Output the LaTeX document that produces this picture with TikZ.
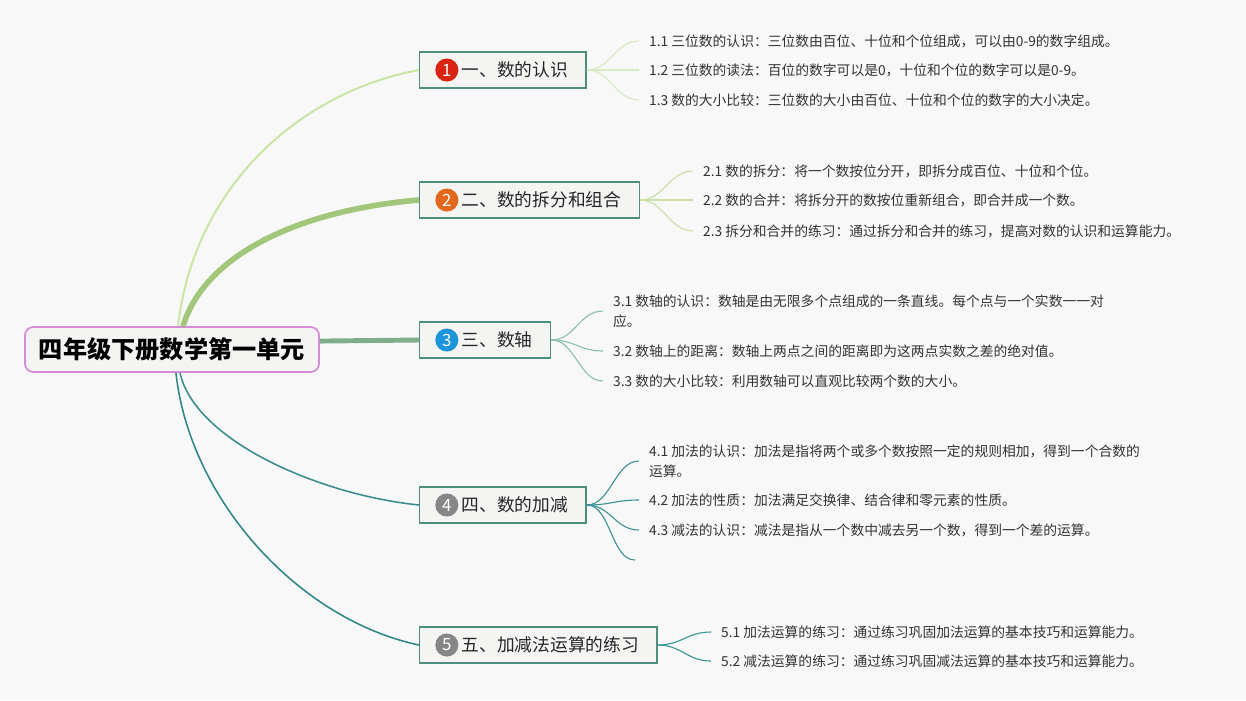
\documentclass[tikz,border=0pt]{standalone}
\usepackage{fontspec}
\setmainfont{Noto Sans CJK SC}
\usetikzlibrary{positioning}

\definecolor{bg}{HTML}{F8F8F8}
\definecolor{boxfill}{HTML}{F4F4F2}
\definecolor{rootline}{HTML}{D38BD6}
\definecolor{topicline}{HTML}{4E8E7E}
\definecolor{leaftext}{HTML}{333333}
\definecolor{c1}{HTML}{C9E5A3}
\definecolor{c2}{HTML}{A3C77A}
\definecolor{c3}{HTML}{7FAE8B}
\definecolor{c4}{HTML}{3A8B8B}
\definecolor{c5}{HTML}{2F8686}
\definecolor{k1}{HTML}{D8EAC2}
\definecolor{k2}{HTML}{CCDFA6}
\definecolor{k3}{HTML}{8DBFA9}
\definecolor{k4}{HTML}{3F9292}
\definecolor{k5}{HTML}{3B9696}
\definecolor{num1}{HTML}{D92411}
\definecolor{num2}{HTML}{E2691C}
\definecolor{num3}{HTML}{1D95DA}
\definecolor{num4}{HTML}{868686}

\begin{document}
\begin{tikzpicture}[x=0.025cm,y=-0.025cm,
  rootbox/.style={draw=rootline,fill=boxfill,line width=1.2pt,rounded corners=6pt,minimum width=7.35cm,minimum height=1.125cm,font=\fontsize{17.2}{20}\selectfont\bfseries},
  topic/.style={draw=topicline,fill=boxfill,line width=1pt,minimum height=25.6pt,inner xsep=12.8pt,anchor=west,text=black!85,font=\fontsize{12.6}{15}\selectfont},
  numdot/.style={circle,inner sep=0pt,minimum size=16.4pt,text=white,font=\fontsize{12}{13}\selectfont},
  leaf/.style={anchor=west,inner xsep=7pt,align=left,text=leaftext,font=\fontsize{9.8}{14.2}\selectfont},
  fan/.style={line width=0.8pt},
]
\fill[bg](0,0)rectangle(1246,700);
\useasboundingbox(0,0)rectangle(1246,700);

\node[rootbox] (0) at (172,349.5) {四年级下册数学第一单元};

\node[topic] (1) at (419,70) {\hspace{17.1pt}一、数的认识};
\node[topic] (2) at (419,200) {\hspace{17.1pt}二、数的拆分和组合};
\node[topic] (3) at (419,340) {\hspace{17.1pt}三、数轴};
\node[topic] (4) at (419,505) {\hspace{17.1pt}四、数的加减};
\node[topic] (5) at (419,645) {\hspace{17.1pt}五、加减法运算的练习};

\node[numdot,fill=num1,right=11.4pt of 1.west] (n1) {1};
\node[numdot,fill=num2,right=11.4pt of 2.west] (n2) {2};
\node[numdot,fill=num3,right=11.4pt of 3.west] (n3) {3};
\node[numdot,fill=num4,right=11.4pt of 4.west] (n4) {4};
\node[numdot,fill=num4,right=11.4pt of 5.west] (n5) {5};

\node[leaf] (11) at (639,41) {1.1 三位数的认识：三位数由百位、十位和个位组成，可以由0-9的数字组成。};
\node[leaf] (12) at (639,70) {1.2 三位数的读法：百位的数字可以是0，十位和个位的数字可以是0-9。};
\node[leaf] (13) at (639,100) {1.3 数的大小比较：三位数的大小由百位、十位和个位的数字的大小决定。};

\node[leaf] (21) at (693,171) {2.1 数的拆分：将一个数按位分开，即拆分成百位、十位和个位。};
\node[leaf] (22) at (693,200) {2.2 数的合并：将拆分开的数按位重新组合，即合并成一个数。};
\node[leaf] (23) at (693,231) {2.3 拆分和合并的练习：通过拆分和合并的练习，提高对数的认识和运算能力。};

\node[leaf] (31) at (603,311) {3.1 数轴的认识：数轴是由无限多个点组成的一条直线。每个点与一个实数一一对\\应。};
\node[leaf] (32) at (603,351) {3.2 数轴上的距离：数轴上两点之间的距离即为这两点实数之差的绝对值。};
\node[leaf] (33) at (603,381) {3.3 数的大小比较：利用数轴可以直观比较两个数的大小。};

\node[leaf] (41) at (639,461) {4.1 加法的认识：加法是指将两个或多个数按照一定的规则相加，得到一个合数的\\运算。};
\node[leaf] (42) at (639,500) {4.2 加法的性质：加法满足交换律、结合律和零元素的性质。};
\node[leaf] (43) at (639,530) {4.3 减法的认识：减法是指从一个数中减去另一个数，得到一个差的运算。};
\coordinate (44) at (635,560);

\node[leaf] (51) at (711,632) {5.1 加法运算的练习：通过练习巩固加法运算的基本技巧和运算能力。};
\node[leaf] (52) at (711,661) {5.2 减法运算的练习：通过练习巩固减法运算的基本技巧和运算能力。};

\draw[color=c1,line width=1.4pt]([xshift=4.3pt]0.north)..controls +(16,-140) and +(-119,22)..(1.west);
\draw[color=c2,line width=4pt]([xshift=7.8pt]0.north)..controls +(22,-72) and +(-119,10)..(2.west);
\draw[color=c3,line width=3.5pt]([yshift=6pt]0.east)to(3.west);
\draw[color=c4,line width=1.1pt]([xshift=5.7pt]0.south)..controls +(15,68) and +(-99,-10)..(4.west);
\draw[color=c5,line width=1.1pt]([xshift=2.8pt]0.south)..controls +(14,128) and +(-119,-25)..(5.west);

\foreach \i in {1,2,3}
  \draw[fan,color=k1](1.east)..controls +(24,0) and +(-24,0)..(1\i.west);
\foreach \i in {1,2,3}
  \draw[fan,color=k2](2.east)..controls +(24,0) and +(-24,0)..(2\i.west);
\foreach \i in {1,2,3}
  \draw[fan,color=k3](3.east)..controls +(24,0) and +(-24,0)..(3\i.west);
\foreach \i in {1,2,3}
  \draw[fan,color=k4](4.east)..controls +(24,0) and +(-24,0)..(4\i.west);
\draw[fan,color=k4](4.east)..controls +(24,0) and +(-24,0)..(44);
\foreach \i in {1,2}
  \draw[fan,color=k5](5.east)..controls +(24,0) and +(-24,0)..(5\i.west);
\end{tikzpicture}
\end{document}
